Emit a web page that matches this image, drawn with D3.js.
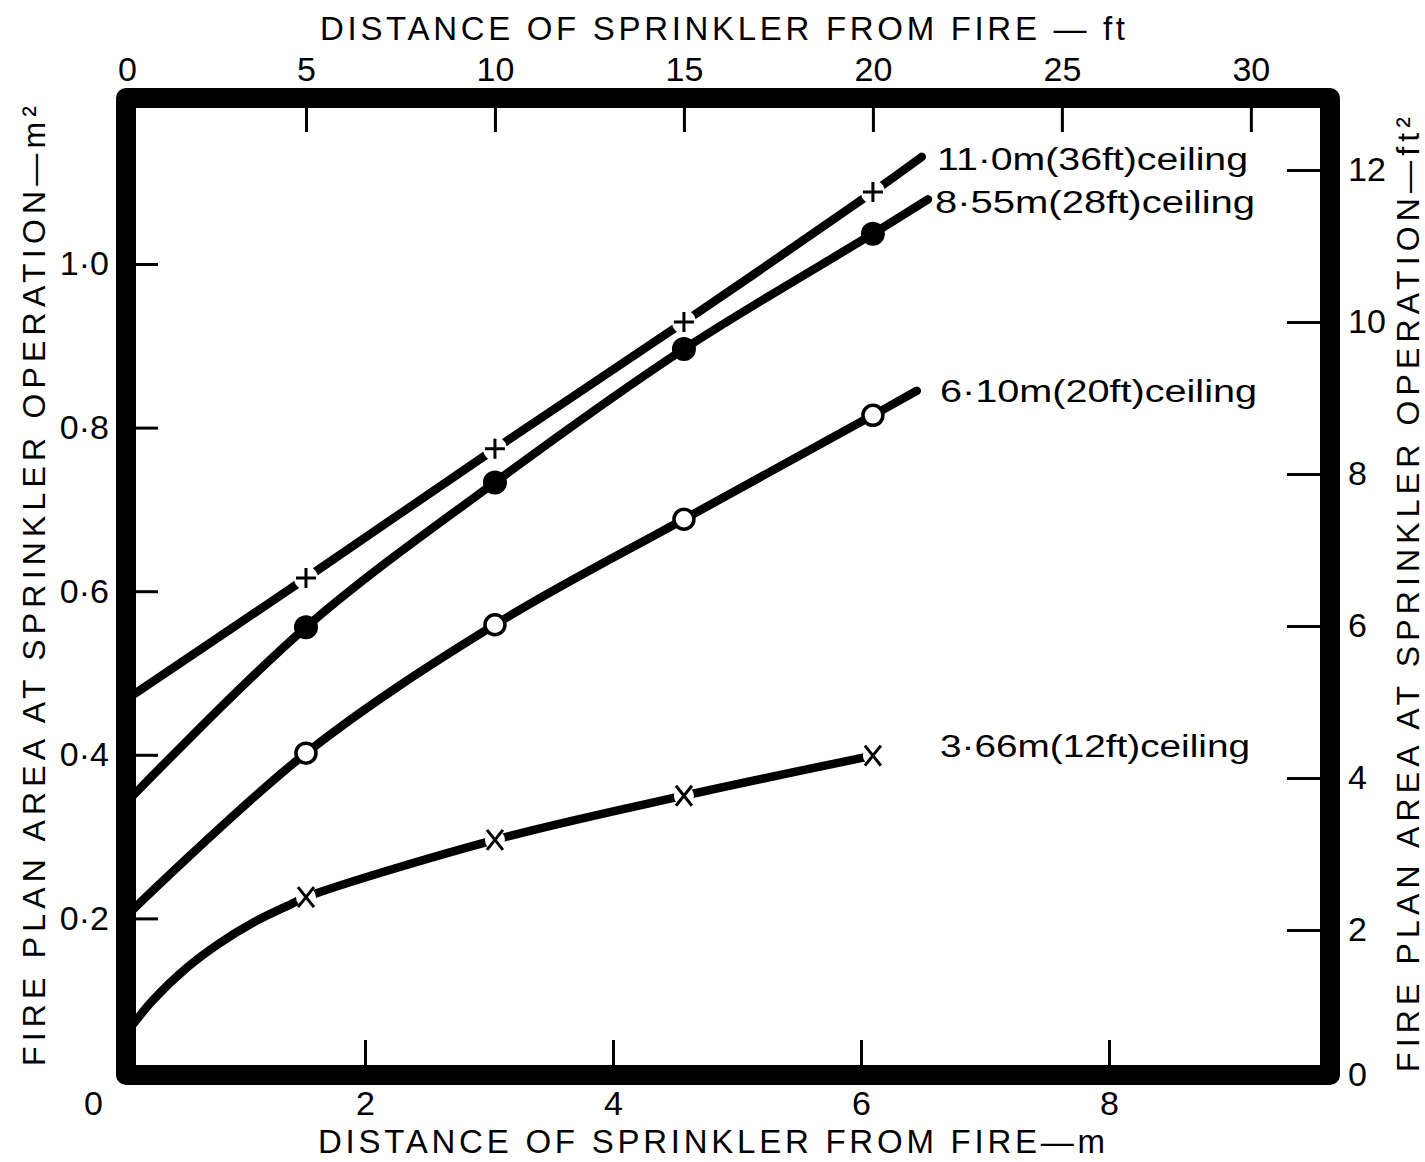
<!DOCTYPE html>
<html>
<head>
<meta charset="utf-8">
<script src="https://cdn.jsdelivr.net/npm/d3@7"></script>
<style>
  html, body { margin: 0; padding: 0; background: #fff; }
  svg { display: block; }
  text { font-family: "Liberation Sans", Arial, sans-serif; fill: #000; }
</style>
</head>
<body>
<svg id="chart" width="1425" height="1162"></svg>
<script>
// ---------------- DATA ----------------
const markerDistM = [1.524, 3.048, 4.572, 6.096];            // 5,10,15,20 ft
const seriesNames = ["11·0m(36ft)ceiling", "8·55m(28ft)ceiling", "6·10m(20ft)ceiling", "3·66m(12ft)ceiling"];
const seriesMarkers = ["plus", "dot", "circle", "cross"];

const marks36 = [0.616, 0.774, 0.929, 1.088];
const marks28 = [0.556, 0.733, 0.896, 1.037];
const marks20 = [0.402, 0.559, 0.688, 0.815];
const marks12 = [0.226, 0.296, 0.350, 0.399];

// drawn curves: [distance m, area m²]
const curve36 = [[0, 0.46], [1.524, 0.616], [3.048, 0.774], [4.572, 0.929], [6.096, 1.088], [6.49, 1.131]];
const curve28 = [[0, 0.33], [1.524, 0.556], [3.048, 0.733], [4.572, 0.896], [6.096, 1.037], [6.54, 1.079]];
const curve20 = [[0, 0.192], [1.524, 0.402], [3.048, 0.559], [4.572, 0.688], [6.096, 0.815], [6.45, 0.845]];
const curve12 = [[0, 0.045], [0.29, 0.100], [0.565, 0.140], [0.83, 0.170], [1.10, 0.195], [1.37, 0.215],
                 [1.524, 0.226], [3.048, 0.296], [4.572, 0.350], [6.096, 0.399]];

const bottomTicksM = [0, 2, 4, 6, 8];
const topTicksFt = [0, 5, 10, 15, 20, 25, 30];
const leftTicksM2 = [0.2, 0.4, 0.6, 0.8, 1.0];
const rightTicksFt2 = [0, 2, 4, 6, 8, 10, 12];

const xTitleBottom = "DISTANCE  OF  SPRINKLER  FROM  FIRE—m";
const xTitleTop = "DISTANCE  OF  SPRINKLER  FROM  FIRE — ft";
const yTitleLeft = "FIRE  PLAN  AREA  AT  SPRINKLER  OPERATION—m²";
const yTitleRight = "FIRE  PLAN  AREA  AT  SPRINKLER  OPERATION—ft²";

// ---------------- LAYOUT ----------------
const M_TO_FT = 3.28084, M2_TO_FT2 = 10.7639;
const originX = 117, originY = 1082, pxPerM = 124, pxPerM2 = 818;
const inner = { x0: 136, y0: 108, x1: 1320, y1: 1065 };
const frameW = 20;

const xM = d3.scaleLinear().domain([0, 10]).range([originX, originX + 10 * pxPerM]);
const xFt = d3.scaleLinear().domain([0, 10 * M_TO_FT]).range([originX, originX + 10 * pxPerM]);
const yM = d3.scaleLinear().domain([0, 1.3]).range([originY, originY - 1.3 * pxPerM2]);
const yFt = d3.scaleLinear().domain([0, 1.3 * M2_TO_FT2]).range([originY, originY - 1.3 * pxPerM2]);

const svg = d3.select("#chart");
svg.append("defs").append("clipPath").attr("id", "plotclip")
  .append("rect").attr("x", inner.x0).attr("y", inner.y0)
  .attr("width", inner.x1 - inner.x0).attr("height", inner.y1 - inner.y0);

const plot = svg.append("g").attr("clip-path", "url(#plotclip)");

const line = d3.line().x(d => xM(d[0])).y(d => yM(d[1])).curve(d3.curveCatmullRom.alpha(0.5));
const curves = [curve36, curve28, curve20, curve12];
const marks = [marks36, marks28, marks20, marks12];

plot.selectAll("path.curve").data(curves).join("path")
  .attr("class", "curve")
  .attr("d", line)
  .attr("fill", "none").attr("stroke", "#000")
  .attr("stroke-width", 8.5).attr("stroke-linecap", "round").attr("stroke-linejoin", "round");

// markers
marks.forEach((vals, i) => {
  const type = seriesMarkers[i];
  const g = plot.append("g");
  vals.forEach((v, j) => {
    const cx = xM(markerDistM[j]), cy = yM(v);
    if (type === "plus" || type === "cross") {
      g.append("circle").attr("cx", cx).attr("cy", cy).attr("r", type === "plus" ? 12 : 10).attr("fill", "#fff");
      const h = 10;
      const p = type === "plus"
        ? `M${cx - h},${cy}L${cx + h},${cy}M${cx},${cy - h}L${cx},${cy + h}`
        : `M${cx - h * 0.8},${cy - h}L${cx + h * 0.8},${cy + h}M${cx - h * 0.8},${cy + h}L${cx + h * 0.8},${cy - h}`;
      g.append("path").attr("d", p).attr("stroke", "#000").attr("stroke-width", 3).attr("fill", "none");
    } else if (type === "dot") {
      g.append("circle").attr("cx", cx).attr("cy", cy).attr("r", 12).attr("fill", "#000");
    } else {
      g.append("circle").attr("cx", cx).attr("cy", cy).attr("r", 10).attr("fill", "#fff")
        .attr("stroke", "#000").attr("stroke-width", 3.5);
    }
  });
});

// frame
svg.append("rect")
  .attr("x", inner.x0 - frameW / 2).attr("y", inner.y0 - frameW / 2)
  .attr("width", inner.x1 - inner.x0 + frameW).attr("height", inner.y1 - inner.y0 + frameW)
  .attr("fill", "none").attr("stroke", "#000").attr("stroke-width", frameW)
  .attr("stroke-linejoin", "round");

// axes
const fmtDot = d => d3.format(".1f")(d).replace(".", "·");
function styleAxis(g) {
  g.select(".domain").remove();
  g.selectAll(".tick line").attr("stroke", "#000").attr("stroke-width", 3);
  g.selectAll(".tick text").attr("font-size", 34).attr("fill", "#000")
    .attr("font-family", "Liberation Sans, Arial, sans-serif");
}

const gTop = svg.append("g").attr("transform", `translate(0,${inner.y0})`)
  .call(d3.axisTop(xFt).tickValues(topTicksFt).tickSizeInner(-24).tickSizeOuter(0).tickPadding(27).tickFormat(d3.format("d")));
styleAxis(gTop);
gTop.selectAll(".tick").filter(d => d === 0).select("line").remove();
gTop.selectAll(".tick text").filter(d => d === 0).attr("dx", 10);

const gBot = svg.append("g").attr("transform", `translate(0,${inner.y1})`)
  .call(d3.axisBottom(xM).tickValues(bottomTicksM).tickSizeInner(-25).tickSizeOuter(0).tickPadding(26).tickFormat(d3.format("d")));
styleAxis(gBot);
gBot.selectAll(".tick").filter(d => d === 0).select("line").remove();
gBot.selectAll(".tick text").filter(d => d === 0).attr("dx", -24);

const gLeft = svg.append("g").attr("transform", `translate(${inner.x0},0)`)
  .call(d3.axisLeft(yM).tickValues(leftTicksM2).tickSizeInner(-22).tickSizeOuter(0).tickPadding(27).tickFormat(fmtDot));
styleAxis(gLeft);

const gRight = svg.append("g").attr("transform", `translate(${inner.x1},0)`)
  .call(d3.axisRight(yFt).tickValues(rightTicksFt2).tickSizeInner(-33).tickSizeOuter(0).tickPadding(28).tickFormat(d3.format("d")));
styleAxis(gRight);
gRight.selectAll(".tick").filter(d => d === 0).select("line").remove();
gRight.selectAll(".tick text").filter(d => d === 0).attr("dy", "0.1em");

// titles
svg.append("text").attr("x", 320).attr("y", 40).attr("font-size", 33)
  .attr("textLength", 805).attr("lengthAdjust", "spacing").text(xTitleTop);
svg.append("text").attr("x", 318).attr("y", 1153).attr("font-size", 33)
  .attr("textLength", 787).attr("lengthAdjust", "spacing").text(xTitleBottom);
svg.append("text").attr("transform", "translate(45,1066) rotate(-90)").attr("font-size", 32)
  .attr("textLength", 960).attr("lengthAdjust", "spacing").text(yTitleLeft);
svg.append("text").attr("transform", "translate(1419,1072) rotate(-90)").attr("font-size", 32)
  .attr("textLength", 955).attr("lengthAdjust", "spacing").text(yTitleRight);

// series labels
const labelPos = [[937, 170, 311], [935, 213, 320], [940, 402, 317], [940, 757, 310]];
seriesNames.forEach((name, i) => {
  const [x, y, w] = labelPos[i];
  svg.append("text").attr("x", x).attr("y", y).attr("font-size", 31)
    .attr("textLength", w).attr("lengthAdjust", "spacingAndGlyphs").text(name);
});
</script>
</body>
</html>
